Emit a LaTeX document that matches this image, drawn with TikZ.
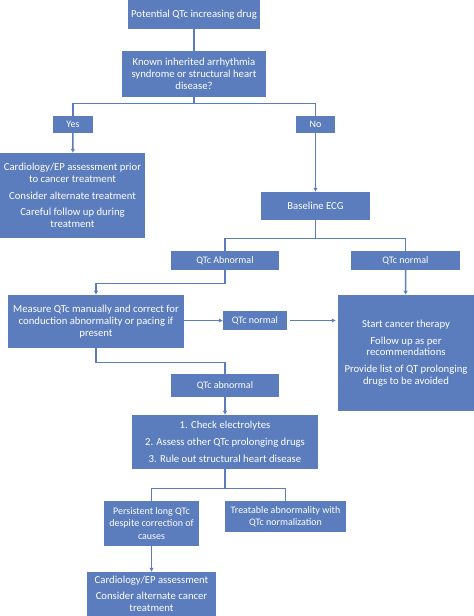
\documentclass[tikz,border=0pt]{standalone}
\usepackage{fontspec}
\setmainfont{Carlito}
\usetikzlibrary{arrows.meta}
\usepackage{xcolor}
\definecolor{steel}{HTML}{5B7DBD}

\begin{document}
\begin{tikzpicture}[
  x=1pt, y=-1pt,
  box/.style={fill=steel, text=white, align=center, inner sep=0pt, font=\fontsize{10.7}{11.8}\selectfont},
  tag/.style={box, font=\fontsize{10}{12.2}\selectfont},
  link/.style={steel, line width=1.4pt},
  arr/.style={link, -{Latex[length=4pt,width=4.5pt]}}
]
\useasboundingbox (0,0) rectangle (474,616);

\node[box, minimum width=132pt, minimum height=29pt] (drug) at (194,14.5) {Potential QTc increasing drug};
\node[box, minimum width=144pt, minimum height=46pt] (known) at (194,74) {Known inherited arrhythmia\\syndrome or structural heart\\disease?};
\node[tag, minimum width=40pt, minimum height=17pt] (yes) at (73,124.5) {Yes};
\node[tag, minimum width=39pt, minimum height=17pt] (no) at (315.5,124.5) {No};
\node[box, minimum width=145pt, minimum height=85pt] (cardio) at (72.5,195.5) {Cardiology/EP assessment prior\\to cancer treatment\\[5pt]Consider alternate treatment\\[5pt]Careful follow up during\\treatment};
\node[box, minimum width=109pt, minimum height=28pt] (ecg) at (315.5,206) {Baseline ECG};
\node[tag, minimum width=108pt, minimum height=19pt] (abn) at (225,260.5) {QTc Abnormal};
\node[tag, minimum width=109pt, minimum height=19pt] (norm) at (405.5,260.5) {QTc normal};
\node[box, minimum width=176pt, minimum height=53pt] (measure) at (96,321.5) {Measure QTc manually and correct for\\conduction abnormality or pacing if\\present};
\node[tag, minimum width=64pt, minimum height=19pt] (normmid) at (255,320.5) {QTc normal};
\node[box, minimum width=136pt, minimum height=116pt] (start) at (406,353) {Start cancer therapy\\[5pt]Follow up as per\\recommendations\\[5pt]Provide list of QT prolonging\\drugs to be avoided};
\node[tag, minimum width=108pt, minimum height=23pt] (abnlow) at (225,385.5) {QTc abnormal};
\node[box, minimum width=186pt, minimum height=54pt] (check) at (225,442) {1. Check electrolytes\\[5pt]2. Assess other QTc prolonging drugs\\[5pt]3. Rule out structural heart disease};
\node[tag, minimum width=95pt, minimum height=45pt] (persist) at (151.5,523.5) {Persistent long QTc\\despite correction of\\causes};
\node[tag, minimum width=121pt, minimum height=31pt] (treat) at (285.5,516.5) {Treatable abnormality with\\QTc normalization};
\node[box, minimum width=129pt, minimum height=44pt] (final) at (151.5,594) {Cardiology/EP assessment\\[4pt]Consider alternate cancer\\treatment};

% connectors
\draw[link] (drug) -- (known);
\draw[link] (known.south) -- ++(0,6) -| (yes.north);
\draw[link] (known.south) -- ++(0,6) -| (no.north);
\draw[arr] (yes) -- (cardio);
\draw[arr] (no) -- (ecg);
\draw[link] (ecg.south) -- ++(0,18) -| (abn.north);
\draw[link] (ecg.south) -- ++(0,18) -| (norm.north);
\draw[arr] (abn.south) -- ++(0,13) -| (measure.north);
\draw[arr] (norm) -- (start);
\draw[arr] (measure.east |- normmid) -- (normmid.west);
\draw[arr, shorten <=3pt, shorten >=2pt] (normmid.east) -- (start.west |- normmid);
\draw[link] (measure.south) -- ++(0,14) -| (abnlow.north);
\draw[arr] (abnlow) -- (check);
\draw[link] (check.south) -- ++(0,19) -| (persist.north);
\draw[link] (check.south) -- ++(0,19) -| (treat.north);
\draw[arr] (persist) -- (final);
\end{tikzpicture}
\end{document}
